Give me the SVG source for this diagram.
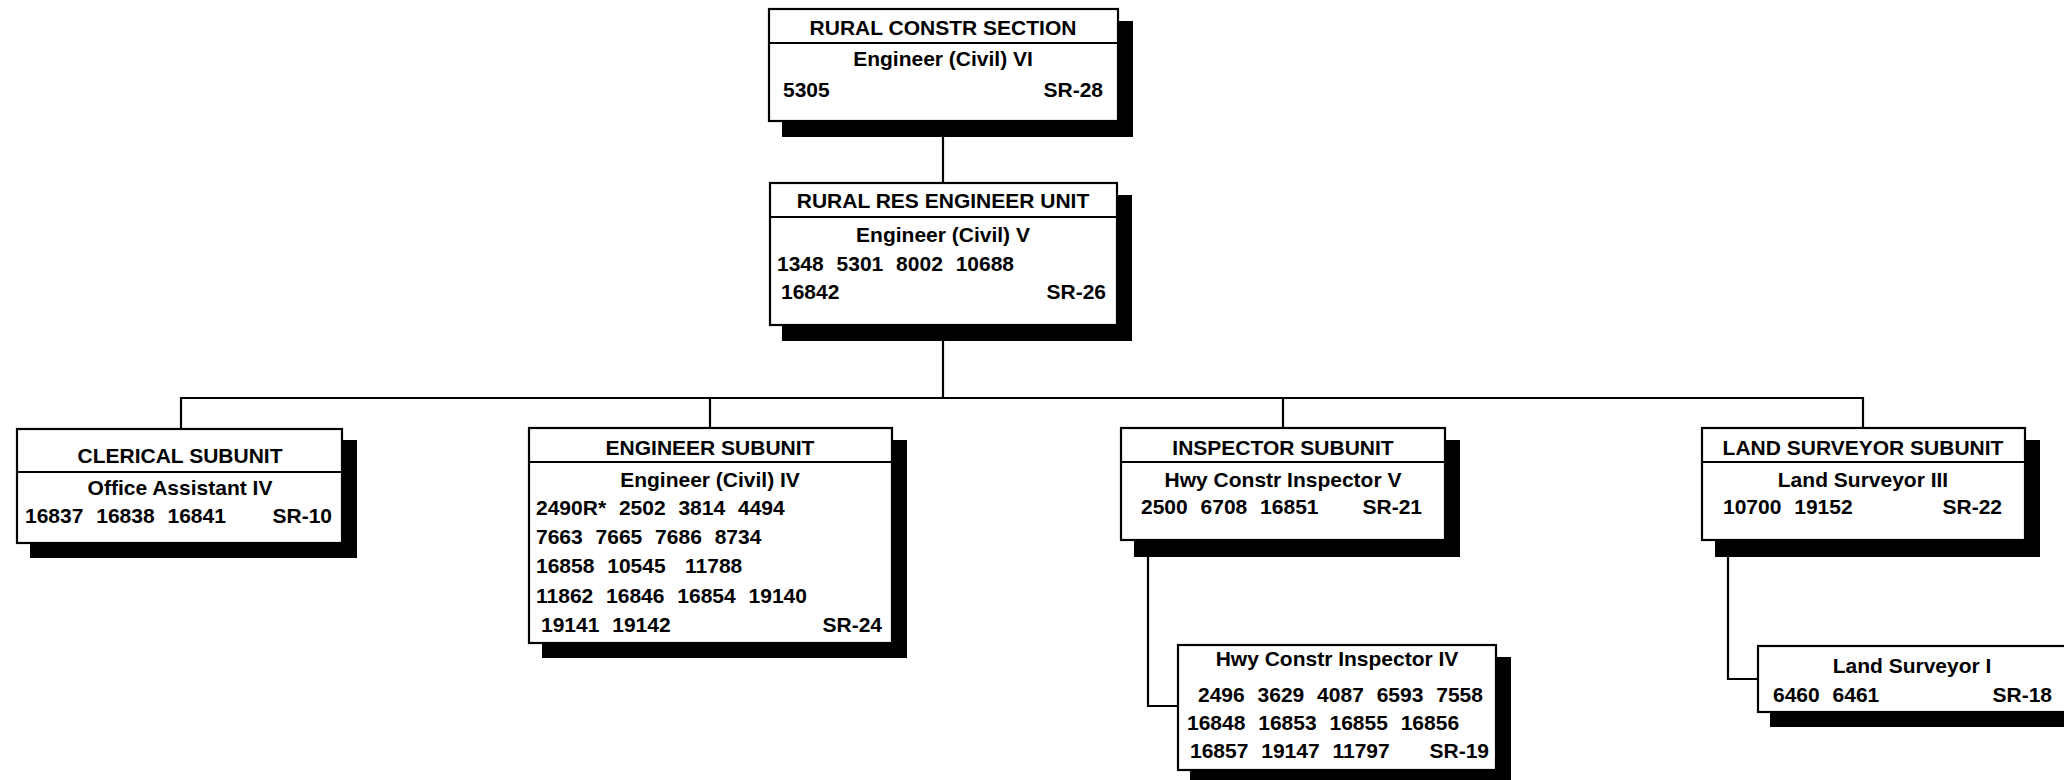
<svg xmlns="http://www.w3.org/2000/svg" width="2064" height="780" viewBox="0 0 2064 780">
<style>
.bg{fill:#fff}
.box{fill:#fff;stroke:#000;stroke-width:2.2}
.sh{fill:#000}
.div{stroke:#000;stroke-width:2.2}
.ln{fill:none;stroke:#000;stroke-width:2.2}
text{font-family:"Liberation Sans",Arial,sans-serif;font-weight:bold;font-size:21px;fill:#000}
.c{text-anchor:middle}
.r{text-anchor:end}
.n{word-spacing:7px}
</style>
<rect class="bg" x="0" y="0" width="2064" height="780"/>
<g id="connectors">
<line class="ln" x1="943" y1="121" x2="943" y2="183"/>
<line class="ln" x1="943" y1="325" x2="943" y2="398"/>
<line class="ln" x1="181" y1="398" x2="1863" y2="398"/>
<line class="ln" x1="181" y1="397" x2="181" y2="429"/>
<line class="ln" x1="710" y1="397" x2="710" y2="428"/>
<line class="ln" x1="1283" y1="397" x2="1283" y2="428"/>
<line class="ln" x1="1863" y1="397" x2="1863" y2="428"/>
<polyline class="ln" points="1148,540 1148,706 1178,706"/>
<polyline class="ln" points="1728,540 1728,679 1758,679"/>
</g>
<g id="rural-constr-section">
<rect class="sh" x="782" y="21" width="351" height="116"/>
<rect class="box" x="769" y="9" width="349" height="112"/>
<line class="div" x1="769" y1="43" x2="1118" y2="43"/>
<text class="c" x="943" y="35">RURAL CONSTR SECTION</text>
<text class="c" x="943" y="66">Engineer (Civil) VI</text>
<text x="783" y="97">5305</text>
<text class="r" x="1103" y="97">SR-28</text>
</g>
<g id="rural-res-engineer-unit">
<rect class="sh" x="782" y="195" width="350" height="146"/>
<rect class="box" x="770" y="183" width="347" height="142"/>
<line class="div" x1="770" y1="217" x2="1117" y2="217"/>
<text class="c" x="943" y="208">RURAL RES ENGINEER UNIT</text>
<text class="c" x="943" y="242">Engineer (Civil) V</text>
<text class="n" x="777" y="271">1348 5301 8002 10688</text>
<text x="781" y="299">16842</text>
<text class="r" x="1106" y="299">SR-26</text>
</g>
<g id="clerical-subunit">
<rect class="sh" x="30" y="440" width="327" height="118"/>
<rect class="box" x="17" y="429" width="325" height="114"/>
<line class="div" x1="17" y1="472" x2="342" y2="472"/>
<text class="c" x="180" y="463">CLERICAL SUBUNIT</text>
<text class="c" x="180" y="495">Office Assistant IV</text>
<text class="n" x="25" y="523">16837 16838 16841</text>
<text class="r" x="332" y="523">SR-10</text>
</g>
<g id="engineer-subunit">
<rect class="sh" x="542" y="440" width="365" height="218"/>
<rect class="box" x="529" y="428" width="363" height="215"/>
<line class="div" x1="529" y1="462" x2="892" y2="462"/>
<text class="c" x="710" y="455">ENGINEER SUBUNIT</text>
<text class="c" x="710" y="487">Engineer (Civil) IV</text>
<text class="n" x="536" y="515">2490R* 2502 3814 4494</text>
<text class="n" x="536" y="544">7663 7665 7686 8734</text>
<text class="n" x="536" y="573">16858 10545</text>
<text x="685" y="573">11788</text>
<text class="n" x="536" y="603">11862 16846 16854 19140</text>
<text class="n" x="541" y="632">19141 19142</text>
<text class="r" x="882" y="632">SR-24</text>
</g>
<g id="inspector-subunit">
<rect class="sh" x="1134" y="440" width="326" height="117"/>
<rect class="box" x="1121" y="428" width="324" height="112"/>
<line class="div" x1="1121" y1="462" x2="1445" y2="462"/>
<text class="c" x="1283" y="455">INSPECTOR SUBUNIT</text>
<text class="c" x="1283" y="487">Hwy Constr Inspector V</text>
<text class="n" x="1141" y="514">2500 6708 16851</text>
<text class="r" x="1422" y="514">SR-21</text>
</g>
<g id="hwy-constr-inspector-iv">
<rect class="sh" x="1190" y="657" width="321" height="130"/>
<rect class="box" x="1178" y="645" width="318" height="125"/>
<text class="c" x="1337" y="666">Hwy Constr Inspector IV</text>
<text class="n" x="1198" y="702">2496 3629 4087 6593 7558</text>
<text class="n" x="1187" y="730">16848 16853 16855 16856</text>
<text class="n" x="1190" y="758">16857 19147 11797</text>
<text class="r" x="1489" y="758">SR-19</text>
</g>
<g id="land-surveyor-subunit">
<rect class="sh" x="1715" y="440" width="325" height="117"/>
<rect class="box" x="1702" y="428" width="323" height="112"/>
<line class="div" x1="1702" y1="462" x2="2025" y2="462"/>
<text class="c" x="1863" y="455">LAND SURVEYOR SUBUNIT</text>
<text class="c" x="1863" y="487">Land Surveyor III</text>
<text class="n" x="1723" y="514">10700 19152</text>
<text class="r" x="2002" y="514">SR-22</text>
</g>
<g id="land-surveyor-i">
<rect class="sh" x="1770" y="658" width="330" height="69"/>
<rect class="box" x="1758" y="646" width="320" height="66"/>
<text class="c" x="1912" y="673">Land Surveyor I</text>
<text class="n" x="1773" y="702">6460 6461</text>
<text class="r" x="2052" y="702">SR-18</text>
</g>
</svg>
